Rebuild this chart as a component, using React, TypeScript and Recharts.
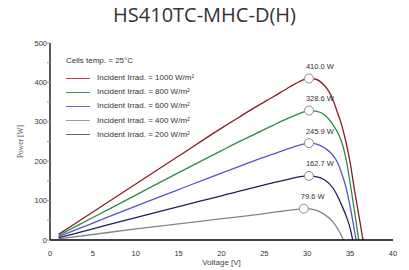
import React from 'react';
import { ComposedChart, Line, XAxis, YAxis, ReferenceDot, Legend } from 'recharts';

// P-V curves (voltage V, power W)
const irr1000 = [
    { v: 1, p: 14.2 }, { v: 5, p: 71 }, { v: 10, p: 142 }, { v: 15, p: 213 }, { v: 20, p: 284 },
    { v: 22, p: 311 }, { v: 24, p: 338 }, { v: 26, p: 363 }, { v: 28, p: 389 }, { v: 29, p: 401 },
    { v: 30.2, p: 410 }, { v: 31, p: 408 }, { v: 32, p: 392 }, { v: 32.5, p: 378 }, { v: 33, p: 356 },
    { v: 33.5, p: 325 }, { v: 34, p: 293 }, { v: 34.5, p: 250 }, { v: 35, p: 197 }, { v: 35.5, p: 128 },
    { v: 36, p: 65 }, { v: 36.5, p: 0 },
];
const irr800 = [
    { v: 1, p: 11.4 }, { v: 5, p: 57 }, { v: 10, p: 114 }, { v: 15, p: 171 }, { v: 20, p: 227 },
    { v: 22, p: 249 }, { v: 24, p: 270 }, { v: 26, p: 291 }, { v: 28, p: 311 }, { v: 29, p: 320 },
    { v: 30.2, p: 328.6 }, { v: 31, p: 327 }, { v: 32, p: 318 }, { v: 32.5, p: 307 }, { v: 33, p: 292 },
    { v: 33.5, p: 275 }, { v: 34, p: 250 }, { v: 34.5, p: 208 }, { v: 35, p: 145 }, { v: 35.5, p: 75 },
    { v: 36, p: 0 },
];
const irr600 = [
    { v: 1, p: 8.6 }, { v: 5, p: 43 }, { v: 10, p: 86 }, { v: 15, p: 128 }, { v: 20, p: 170 },
    { v: 22, p: 186 }, { v: 24, p: 203 }, { v: 26, p: 218 }, { v: 28, p: 233 }, { v: 29, p: 240 },
    { v: 30.2, p: 245.9 }, { v: 31, p: 244 }, { v: 32, p: 234 }, { v: 33, p: 215 }, { v: 33.5, p: 198 },
    { v: 34, p: 170 }, { v: 34.5, p: 135 }, { v: 35, p: 85 }, { v: 35.3, p: 50 }, { v: 35.7, p: 0 },
];
const irr400 = [
    { v: 1, p: 5.7 }, { v: 5, p: 28.5 }, { v: 10, p: 57 }, { v: 15, p: 85 }, { v: 20, p: 112 },
    { v: 25, p: 140 }, { v: 27, p: 150 }, { v: 28, p: 155 }, { v: 29, p: 160 }, { v: 30.2, p: 162.7 },
    { v: 31, p: 161 }, { v: 32, p: 153 }, { v: 33, p: 132 }, { v: 33.5, p: 113 }, { v: 34, p: 89 },
    { v: 34.5, p: 63 }, { v: 35, p: 30 }, { v: 35.3, p: 0 },
];
const irr200 = [
    { v: 1, p: 3 }, { v: 5, p: 14 }, { v: 10, p: 28 }, { v: 15, p: 41 }, { v: 20, p: 54 },
    { v: 25, p: 67 }, { v: 27, p: 73 }, { v: 28, p: 76 }, { v: 29, p: 78.5 }, { v: 29.6, p: 79.6 },
    { v: 30, p: 79.4 }, { v: 31, p: 76 }, { v: 31.5, p: 71 }, { v: 32, p: 65 }, { v: 33, p: 46 },
    { v: 33.5, p: 30 }, { v: 34, p: 10 }, { v: 34.2, p: 0 },
];

const peaks = [
    { v: 30.2, p: 410.0, label: '410.0 W' },
    { v: 30.2, p: 328.6, label: '328.6 W' },
    { v: 30.2, p: 245.9, label: '245.9 W' },
    { v: 30.2, p: 162.7, label: '162.7 W' },
    { v: 29.6, p: 79.6, label: '79.6 W' },
];

const X_TICKS = [0, 5, 10, 15, 20, 25, 30, 35, 40];
const X_MINOR = [1.5, 3, 4.5, 6, 7.5, 9, 10.5, 12, 13.5, 15, 16.5, 18, 19.5, 21, 22.5, 24, 25.5, 27, 28.5, 30, 31.5, 33, 34.5, 36, 37.5, 39];
const Y_TICKS = [0, 50, 100, 150, 200, 250, 300, 350, 400, 450, 500];

const SERIES = [
    { name: '1000', data: irr1000, color: '#8b1c24', legendColor: '#b5484e' },
    { name: '800', data: irr800, color: '#2f8a45', legendColor: '#3f9a55' },
    { name: '600', data: irr600, color: '#5555c8', legendColor: '#6a6ad8' },
    { name: '400', data: irr400, color: '#20205a', legendColor: '#9a9a9a' },
    { name: '200', data: irr200, color: '#858585', legendColor: '#666666' },
];

const SANS = '"Liberation Sans", Arial, sans-serif';

function LegendBox() {
    return (
        <div style={{ fontFamily: SANS, fontSize: 8, color: '#333', lineHeight: '14px' }}>
            <div style={{ height: 14 }}>Cells temp. = 25°C</div>
            <div style={{ height: 3 }} />
            {SERIES.map((s) => (
                <div key={s.name} style={{ display: 'flex', alignItems: 'center', height: 14.2 }}>
                    <span style={{ display: 'inline-block', width: 24, height: 0, borderTop: `1px solid ${s.legendColor}`, marginRight: 7 }} />
                    <span>Incident Irrad. = {s.name} W/m<sup style={{ fontSize: 5, verticalAlign: 'top', lineHeight: '10px' }}>2</sup></span>
                </div>
            ))}
        </div>
    );
}

const PeakLabel = (text: string) => (props: any) => {
    const vb = props.viewBox;
    return (
        <text x={vb.x + vb.width / 2 - 3} y={vb.y - 5} fontSize={7.5} fontFamily={SANS} fill="#333">
            {text}
        </text>
    );
};

export default function App() {
    return (
        <div style={{ position: 'absolute', left: 0, top: 0, width: 409, height: 270, background: '#fff' }}>
            <ComposedChart width={409} height={270} margin={{ top: 43, right: 16, bottom: 0, left: 20 }}>
                <XAxis
                    xAxisId="bm"
                    type="number"
                    domain={[0, 40]}
                    ticks={X_MINOR}
                    mirror
                    height={0}
                    axisLine={false}
                    tickSize={3}
                    tickLine={{ stroke: '#999' }}
                    tickFormatter={() => ''}
                />
                <XAxis
                    xAxisId="x"
                    dataKey="v"
                    type="number"
                    domain={[0, 40]}
                    ticks={X_TICKS}
                    height={30}
                    tickLine={false}
                    tickMargin={5}
                    axisLine={{ stroke: '#000', strokeWidth: 1.3 }}
                    tick={{ fontSize: 7.5, fontFamily: SANS, fill: '#333' }}
                    label={{
                        content: (props: any) => (
                            <text x={props.viewBox.x + props.viewBox.width / 2} y={props.viewBox.y + 25} textAnchor="middle" fontSize={8} fontFamily={SANS} fill="#444">
                                Voltage [V]
                            </text>
                        ),
                    }}
                />
                <XAxis
                    xAxisId="t"
                    orientation="top"
                    type="number"
                    domain={[0, 40]}
                    ticks={X_MINOR}
                    mirror
                    height={0}
                    axisLine={{ stroke: '#000', strokeWidth: 1.3 }}
                    tickSize={3}
                    tickLine={{ stroke: '#999' }}
                    tickFormatter={() => ''}
                />
                <YAxis
                    yAxisId="y"
                    type="number"
                    domain={[0, 500]}
                    ticks={Y_TICKS}
                    width={30}
                    tickSize={3}
                    tickMargin={0}
                    tickLine={{ stroke: '#999' }}
                    axisLine={{ stroke: '#000', strokeWidth: 1.3 }}
                    tick={{ fontSize: 7.5, fontFamily: SANS, fill: '#333' }}
                    tickFormatter={(v: number) => (v % 100 === 0 ? String(v) : '')}
                    label={{
                        content: (props: any) => {
                            const x = props.viewBox.x + 3;
                            const y = props.viewBox.y + props.viewBox.height / 2;
                            return (
                                <text x={x} y={y} transform={`rotate(-90 ${x} ${y})`} textAnchor="middle" fontSize={7.5} fontFamily='"Liberation Serif", serif' fill="#555">
                                    Power [W]
                                </text>
                            );
                        },
                    }}
                />
                <YAxis
                    yAxisId="r"
                    orientation="right"
                    type="number"
                    domain={[0, 500]}
                    ticks={Y_TICKS}
                    mirror
                    width={0}
                    tickSize={3}
                    tickLine={{ stroke: '#999' }}
                    axisLine={{ stroke: '#000', strokeWidth: 1.3 }}
                    tickFormatter={() => ''}
                />
                <Legend
                    layout="vertical"
                    align="center"
                    verticalAlign="middle"
                    content={() => <LegendBox />}
                    wrapperStyle={{ top: 54, left: 66, width: 180, height: 90 }}
                />
                {SERIES.map((s) => (
                    <Line
                        key={s.name}
                        xAxisId="x"
                        yAxisId="y"
                        data={s.data}
                        dataKey="p"
                        type="monotone"
                        stroke={s.color}
                        strokeWidth={1.3}
                        dot={false}
                        legendType="none"
                        isAnimationActive={false}
                    />
                ))}
                {peaks.map((pk) => (
                    <ReferenceDot
                        key={pk.label}
                        xAxisId="x"
                        yAxisId="y"
                        x={pk.v}
                        y={pk.p}
                        r={4.5}
                        fill="#fff"
                        stroke="#8a8a8a"
                        strokeWidth={1}
                        label={{ content: PeakLabel(pk.label) }}
                    />
                ))}
            </ComposedChart>
            <div style={{ position: 'absolute', top: 3, left: 0, width: 409, textAlign: 'center', fontFamily: '"Open Sans", sans-serif', fontSize: 20, lineHeight: '24px', color: '#333' }}>
                HS410TC-MHC-D(H)
            </div>
        </div>
    );
}
